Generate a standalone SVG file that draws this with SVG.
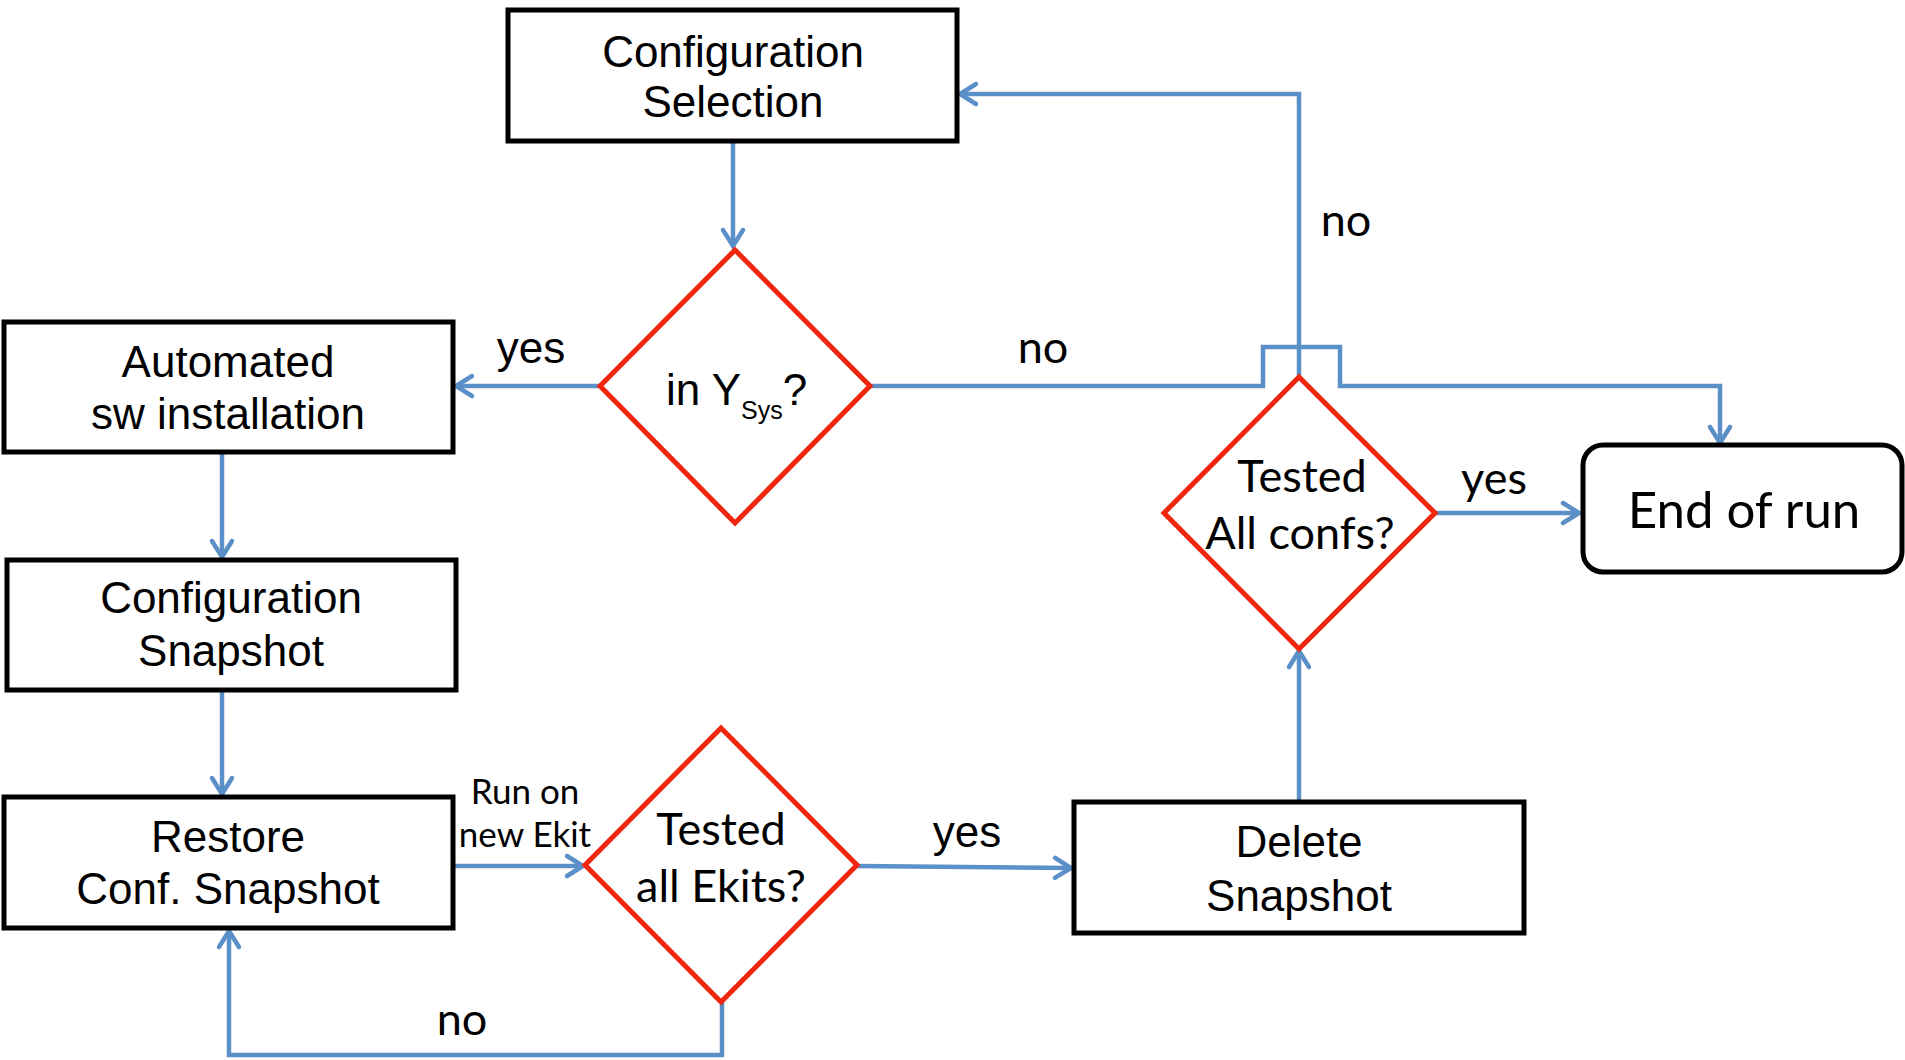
<svg xmlns="http://www.w3.org/2000/svg" width="1905" height="1060" viewBox="0 0 1905 1060">
<style>
.box{fill:#fff;stroke:#000;stroke-width:5}
.dia{fill:#fff;stroke:#f0260e;stroke-width:5;stroke-linejoin:miter}
.con{fill:none;stroke:#5b8fc8;stroke-width:4.5}
.h{font-family:"Liberation Sans",Arial,sans-serif;font-size:44px;fill:#000;text-anchor:middle}
.c{font-family:Lato,"Open Sans",sans-serif;font-size:45px;fill:#000;text-anchor:middle}
.s{font-size:35px}
</style>
<defs>
<marker id="arr" markerUnits="userSpaceOnUse" markerWidth="24" markerHeight="24" viewBox="-18 -12 24 24" refX="0" refY="0" orient="auto" overflow="visible">
<path d="M-16,-10 L0,0 L-16,10" fill="none" stroke="#5b8fc8" stroke-width="4.5" stroke-linecap="round"/>
</marker>
</defs>
<rect width="1905" height="1060" fill="#fff"/>
<g id="connectors">
<path class="con" d="M733,141 V246" marker-end="url(#arr)"/>
<path class="con" d="M599,386 H456" marker-end="url(#arr)"/>
<path class="con" d="M222,452 V557" marker-end="url(#arr)"/>
<path class="con" d="M222,690 V794" marker-end="url(#arr)"/>
<path class="con" d="M453,866 H583" marker-end="url(#arr)"/>
<path class="con" d="M858,866 L1071,868" marker-end="url(#arr)"/>
<path class="con" d="M722,1002 V1055 H229 V931" marker-end="url(#arr)"/>
<path class="con" d="M1299,802 V651" marker-end="url(#arr)"/>
<path class="con" d="M1299,377 V94 H960" marker-end="url(#arr)"/>
<path class="con" d="M870,386 H1263 V347 H1340 V386 H1720 V443" marker-end="url(#arr)"/>
<path class="con" d="M1435,513 H1579" marker-end="url(#arr)"/>
<text class="h" x="531" y="363">yes</text>
<text class="c" x="1043" y="363">no</text>
<text class="c" x="1346" y="236">no</text>
<text class="c" x="1494" y="494">yes</text>
<text class="c s" x="525" y="804">Run on</text>
<text class="c s" x="525" y="847">new Ekit</text>
<text class="h" x="967" y="847">yes</text>
<text class="c" x="462" y="1035">no</text>
</g>
<g id="config-selection">
<rect class="box" x="508" y="10" width="449" height="131"/>
<text class="h" x="733" y="67">Configuration</text>
<text class="h" x="733" y="117">Selection</text>
</g>
<g id="automated-install">
<rect class="box" x="4" y="322" width="449" height="130"/>
<text class="h" x="228" y="377">Automated</text>
<text class="h" x="228" y="429">sw installation</text>
</g>
<g id="config-snapshot">
<rect class="box" x="7" y="560" width="449" height="130"/>
<text class="h" x="231" y="613">Configuration</text>
<text class="h" x="231" y="666">Snapshot</text>
</g>
<g id="restore-snapshot">
<rect class="box" x="4" y="797" width="449" height="131"/>
<text class="h" x="228" y="852">Restore</text>
<text class="h" x="228" y="904">Conf. Snapshot</text>
</g>
<g id="delete-snapshot">
<rect class="box" x="1074" y="802" width="450" height="131"/>
<text class="h" x="1299" y="857">Delete</text>
<text class="h" x="1299" y="911">Snapshot</text>
</g>
<g id="end-of-run">
<rect class="box" x="1583" y="445" width="319" height="127" rx="20" ry="20"/>
<text class="c" x="1744" y="528" style="font-size:51px">End of run</text>
</g>
<g id="in-ysys">
<polygon class="dia" points="735,250 870,386 735,523 600,386"/>
<text class="h" x="666" y="405" style="text-anchor:start">in Y<tspan font-size="25" dy="14">Sys</tspan><tspan dy="-14">?</tspan></text>
</g>
<g id="tested-all-confs">
<polygon class="dia" points="1299,377 1435,513 1299,649 1164,513"/>
<text class="c" x="1302" y="492">Tested</text>
<text class="c" x="1300" y="549">All confs?</text>
</g>
<g id="tested-all-ekits">
<polygon class="dia" points="721,728 857,865 721,1002 585,865"/>
<text class="c" x="721" y="845">Tested</text>
<text class="c" x="721" y="902">all Ekits?</text>
</g>
</svg>
